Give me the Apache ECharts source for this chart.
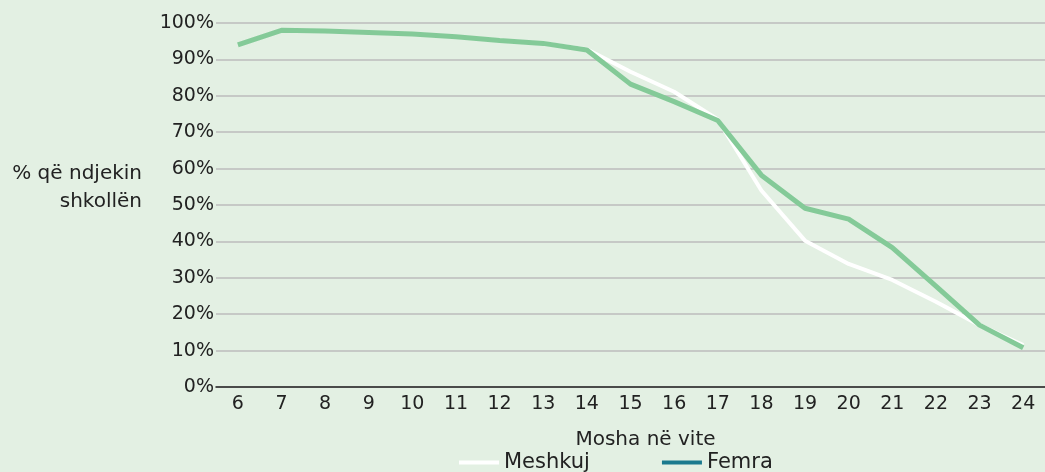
<!DOCTYPE html>
<html><head><meta charset="utf-8">
<script src="https://cdn.jsdelivr.net/npm/echarts@6/dist/echarts.min.js"></script>
<style>html,body{margin:0;padding:0;background:#e3f0e3;}#c{width:1045px;height:472px;}</style>
</head><body><div id="c"></div>
<script>
const categories = ['6','7','8','9','10','11','12','13','14','15','16','17','18','19','20','21','22','23','24'];
const meshkuj = [94, 98, 97.8, 97.4, 97, 96.2, 95.2, 94.4, 92.8, 86.6, 81.1, 73.5, 54, 40.2, 33.8, 29.4, 23.4, 17, 11.5];
const femra   = [94, 98, 97.8, 97.4, 97, 96.2, 95.2, 94.4, 92.6, 83.2, 78.4, 73.2, 58.2, 49.1, 46.1, 38.3, 27.7, 17, 10.8];
const yTicks = [0, 10, 20, 30, 40, 50, 60, 70, 80, 90, 100];
const seriesNames = ['Meshkuj', 'Femra'];

const FONT = '"DejaVu Sans", "Noto Sans", sans-serif';
const chart = echarts.init(document.getElementById('c'));
chart.setOption({
  backgroundColor: '#e3f0e3',
  animation: false,
  textStyle: { fontFamily: FONT },
  grid: { left: 216, right: 0, top: 23, bottom: 85, containLabel: false },
  xAxis: {
    type: 'category', data: categories, boundaryGap: true,
    axisLine: { lineStyle: { color: '#222', width: 1.5 } },
    axisTick: { show: false },
    axisLabel: { color: '#222', fontSize: 19, fontFamily: FONT, margin: 8 },
    name: 'Mosha në vite', nameLocation: 'middle', nameGap: 43,
    nameTextStyle: { color: '#222', fontSize: 20, fontFamily: FONT, padding: [0, 0, 0, 30] }
  },
  yAxis: {
    type: 'value', min: yTicks[0], max: yTicks[yTicks.length - 1], interval: 10,
    axisLine: { show: false }, axisTick: { show: false },
    axisLabel: { color: '#222', fontSize: 19, fontFamily: FONT, margin: 2, formatter: v => v + '%' },
    splitLine: { lineStyle: { color: '#bcbcbc', width: 1.5 } }
  },
  legend: {
    bottom: -6, left: 454, itemWidth: 40, itemHeight: 4, itemGap: 72,
    icon: 'rect',
    textStyle: { color: '#222', fontSize: 21, fontFamily: FONT, padding: [0, 0, 0, 0] },
    data: seriesNames
  },
  graphic: [
    { type: 'text', right: 1045 - 142, top: 164, style: { text: '% që ndjekin', fill: '#222', font: '20px ' + FONT, textAlign: 'right' } },
    { type: 'text', right: 1045 - 142, top: 192, style: { text: 'shkollën', fill: '#222', font: '20px ' + FONT, textAlign: 'right' } }
  ],
  series: [
    { name: seriesNames[0], type: 'line', data: meshkuj, symbol: 'none',
      itemStyle: { color: '#ffffff' }, lineStyle: { color: '#ffffff', width: 4 } },
    { name: seriesNames[1], type: 'line', data: femra, symbol: 'none',
      itemStyle: { color: '#1b7a8e' }, lineStyle: { color: '#84ca98', width: 5 } }
  ]
});
</script></body></html>
